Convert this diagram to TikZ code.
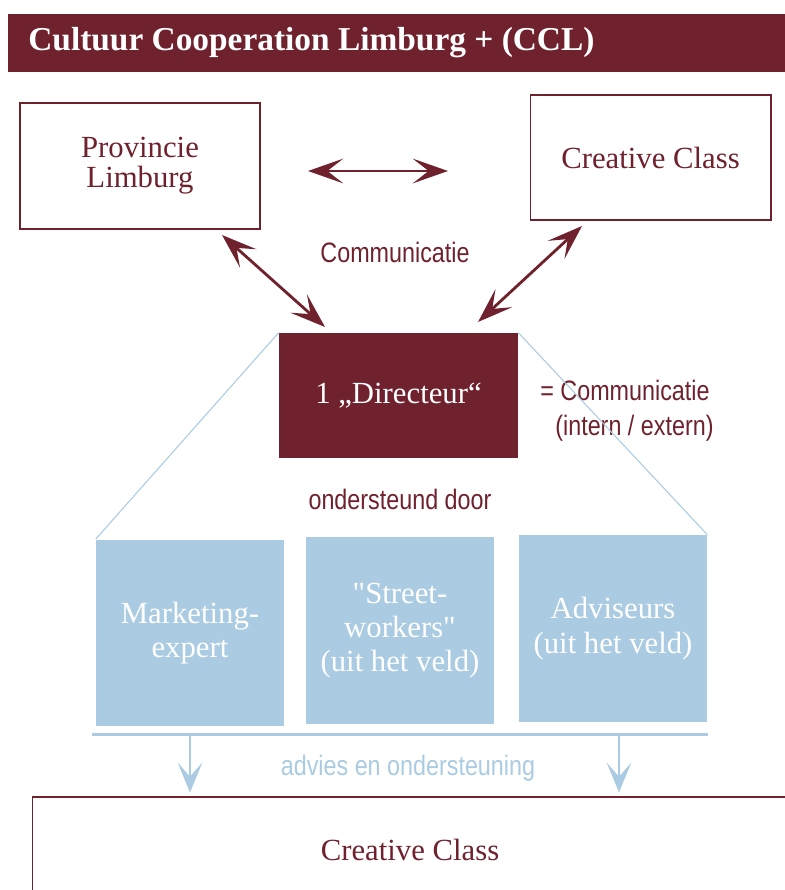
\documentclass[tikz,border=0pt]{standalone}
\usepackage{fontspec}
\setmainfont{Liberation Serif}
\newfontfamily\narrowsans[FakeStretch=0.83]{Liberation Sans}
\usetikzlibrary{arrows.meta}
\definecolor{cclred}{HTML}{6F222D}
\definecolor{ccblue}{HTML}{AACBE1}
\newcommand{\titlefont}{\bfseries\fontsize{19}{23}\selectfont}
\newcommand{\boxfont}{\fontsize{17.5}{17}\selectfont}
\newcommand{\teamfont}{\fontsize{17.5}{19.5}\selectfont}
\newcommand{\commfont}{\narrowsans\fontsize{16}{19}\selectfont}

\begin{document}
\begin{tikzpicture}[x=0.02cm, y=-0.02cm,
    redbox/.style={draw=cclred, line width=0.6pt, inner sep=0pt, text=cclred, font=\boxfont, align=center},
    teambox/.style={fill=ccblue, inner sep=0pt, minimum width=3.76cm, minimum height=3.74cm, text=white, font=\teamfont, align=center},
    redlabel/.style={text=cclred, font=\commfont, inner sep=0pt},
    redarrow/.style={draw=cclred, line width=1.6pt, {Stealth[length=20pt,width=14pt,inset=9pt]}-{Stealth[length=20pt,width=14pt,inset=9pt]}},
    bluearrow/.style={draw=ccblue, line width=1.7pt, -{Stealth[length=17pt,width=14pt,inset=8pt]}}]
    \clip (0,0) rectangle (785,890);

    % title bar
    \node[fill=cclred, inner sep=0pt, minimum width=15.54cm, minimum height=1.16cm, anchor=north west] (titlebar) at (8,14) {};
    \node[anchor=west, text=white, font=\titlefont, inner sep=0pt] (title) at (28,43) {Cultuur Cooperation Limburg + (CCL)};

    % partners
    \node[redbox, minimum width=4.8cm, minimum height=2.52cm] (prov) at (140,166) {Provincie\\Limburg};
    \node[redbox, minimum width=4.82cm, minimum height=2.5cm] (cc) at (650.5,157.5) {Creative Class};
    \node[fill=cclred, text=white, font=\boxfont, inner sep=0pt, minimum width=4.78cm, minimum height=2.5cm] (dir) at (398.5,395.5) {1 „Directeur“};

    \node[redlabel] (commtop) at (395,252) {Communicatie};
    \node[redlabel, anchor=base west] (eqcomm) at (540,400) {= Communicatie};
    \node[redlabel, anchor=base west] (inex) at (555,435) {(intern / extern)};
    \node[redlabel] (support) at (400,499) {ondersteund door};

    % team
    \node[teambox] (market) at (190,633) {Marketing-\\expert};
    \node[teambox] (street) at (400,630.5) {\textquotedbl Street-\\workers\textquotedbl\\(uit het veld)};
    \node[teambox] (advisors) at (613,628.5) {Adviseurs\\(uit het veld)};

    \node[text=ccblue, font=\commfont, inner sep=0pt] (advice) at (408,768) {advies en ondersteuning};
    \node[redbox, minimum width=15.12cm, minimum height=2.12cm] (ccbottom) at (410,850) {Creative Class};

    \coordinate (hL) at (308,171); \coordinate (hR) at (448,171);
    \coordinate (provlink) at (222,235); \coordinate (dirlinkL) at (325,327);
    \coordinate (cclink) at (582,226); \coordinate (dirlinkR) at (478,322);
    \coordinate (barL) at (92,734); \coordinate (barR) at (708,734);
    \coordinate (downL) at (190,734); \coordinate (downR) at (619,734);

    \draw[redarrow] (hL) -- (hR); \draw[redarrow] (provlink) -- (dirlinkL); \draw[redarrow] (cclink) -- (dirlinkR);
    \draw[ccblue, line width=0.6pt] (dir.north west) -- (market.north west); \draw[ccblue, line width=0.6pt] (dir.north east) -- (advisors.north east);
    \draw[ccblue, line width=1.7pt] (barL) -- (barR);
    \draw[bluearrow, shorten >=0.08cm] (downL) -- (downL |- ccbottom.north); \draw[bluearrow, shorten >=0.08cm] (downR) -- (downR |- ccbottom.north);
\end{tikzpicture}
\end{document}
